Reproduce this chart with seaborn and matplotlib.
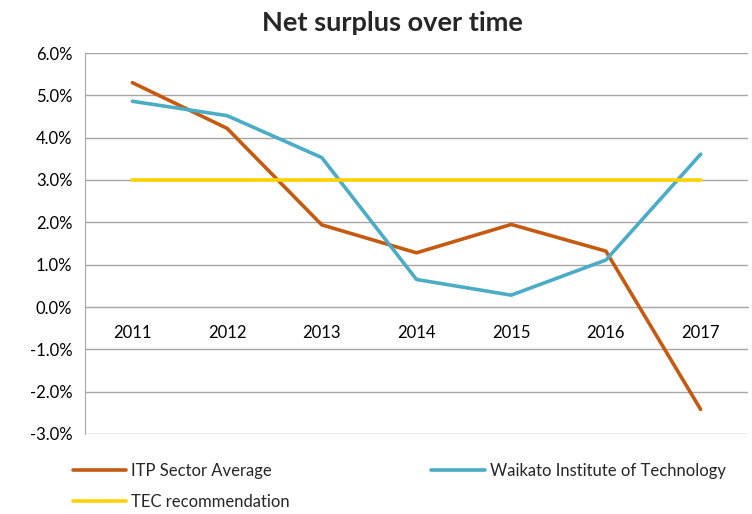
import matplotlib
matplotlib.use("Agg")
import matplotlib.pyplot as plt
import seaborn as sns
import pandas as pd
from matplotlib.ticker import FuncFormatter, FixedLocator
from matplotlib.lines import Line2D

years = ["2011", "2012", "2013", "2014", "2015", "2016", "2017"]
itp_avg = [5.30, 4.22, 1.94, 1.28, 1.95, 1.32, -2.42]
waikato = [4.86, 4.52, 3.53, 0.65, 0.28, 1.11, 3.61]
tec_rec = [3.0, 3.0, 3.0, 3.0, 3.0, 3.0, 3.0]

series_names = ["ITP Sector Average", "Waikato Institute of Technology", "TEC recommendation"]
colors = {"ITP Sector Average": "#C55A11",
          "Waikato Institute of Technology": "#4BACC6",
          "TEC recommendation": "#FFD200"}

rows = []
for name, vals in zip(series_names, [itp_avg, waikato, tec_rec]):
    for i, (y, v) in enumerate(zip(years, vals)):
        rows.append({"pos": i, "year": y, "value": v, "series": name})
df = pd.DataFrame(rows)

sns.set_style("white")
plt.rcParams['font.family'] = ['Lato', 'DejaVu Sans']

fig = plt.figure(figsize=(7.52, 5.14), dpi=100)
ax = fig.add_axes([85/752, 1-434/514, (748-85)/752, (434-53)/514])

sns.lineplot(data=df, x="pos", y="value", hue="series", palette=colors,
             hue_order=series_names, linewidth=2.6, ax=ax, legend=False,
             zorder=3)

ax.set_xlim(-0.5, len(years) - 0.5)
ax.set_ylim(-3, 6)
ax.set_yticks([v for v in range(-3, 7)])
ax.yaxis.set_major_formatter(FuncFormatter(lambda v, p: f"{v:.1f}%"))
ax.grid(axis="y", color="#A6A6A6", linewidth=1.0, zorder=0)
ax.grid(axis="x", visible=False)

for s in ["top", "right"]:
    ax.spines[s].set_visible(False)
ax.spines["left"].set_color("#A6A6A6")
ax.spines["bottom"].set_color("#A6A6A6")
ax.spines["bottom"].set_position(("data", 0))

ax.set_xticks(range(len(years)))
ax.set_xticklabels(years)
ax.xaxis.set_minor_locator(FixedLocator([i + 0.5 for i in range(-1, len(years))]))
ax.tick_params(axis="x", which="major", length=0, pad=13, labelsize=12, colors="#000000")
ax.tick_params(axis="x", which="minor", length=5, color="#A6A6A6", direction="out")
ax.tick_params(axis="y", length=5, color="#A6A6A6", labelsize=12, pad=4, labelcolor="#000000")
ax.set_xlabel("")
ax.set_ylabel("")

fig.text(392/752, 1-23/514, "Net surplus over time", ha="center", va="center",
         fontsize=19.5, fontweight="bold")

order = ["ITP Sector Average", "TEC recommendation", "Waikato Institute of Technology"]
handles = [Line2D([0], [0], color=colors[n], linewidth=2.6) for n in order]
fig.legend(handles, order, ncol=2, loc="upper left",
           bbox_to_anchor=(66/752, 1-456/514), frameon=False,
           fontsize=12, handlelength=3.2, handletextpad=0.3,
           columnspacing=8.5, labelspacing=0.9, borderaxespad=0)

fig.savefig("out.png", dpi=100)
